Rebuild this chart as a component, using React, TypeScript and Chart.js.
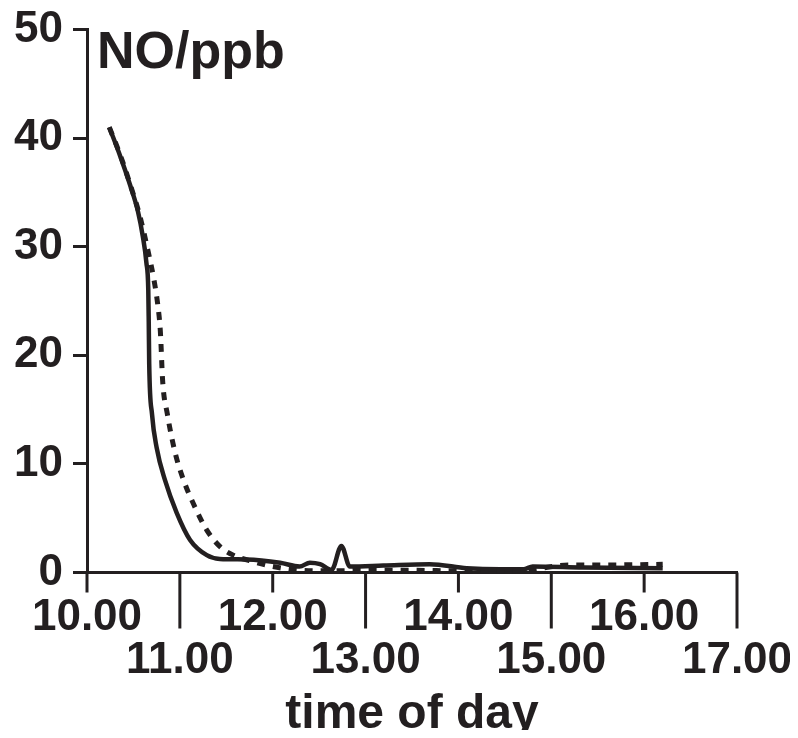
import React, { useEffect, useRef } from "react";
import { Chart, registerables } from "chart.js";

Chart.register(...registerables);

const INK = "#231f20";
const FONT = "'Liberation Sans', Arial, Helvetica, sans-serif";

// x axis: time of day (hours)
const hourTicks = [10, 11, 12, 13, 14, 15, 16, 17];
const yTickValues = [0, 10, 20, 30, 40, 50];

// solid series
const solidTime = [10.24, 10.355, 10.463, 10.55, 10.6, 10.64, 10.66, 10.665, 10.67, 10.7, 10.75, 10.84, 10.966, 11.11, 11.29, 11.43, 11.72, 12.08, 12.29, 12.4, 12.51, 12.635, 12.74, 12.83, 13.19, 13.69, 14.09, 14.45, 14.7, 14.8, 15.34, 16.2];
const solidNO = [41.0, 38.4, 35.7, 33.2, 31.0, 28.5, 26.0, 23.0, 19.2, 14.6, 11.5, 8.5, 5.5, 3.0, 1.6, 1.25, 1.2, 0.9, 0.55, 0.9, 0.77, 0.25, 2.45, 0.55, 0.64, 0.77, 0.4, 0.3, 0.3, 0.55, 0.46, 0.4];

// dotted series
const dottedTime = [10.24, 10.36, 10.47, 10.57, 10.66, 10.72, 10.76, 10.79, 10.815, 10.865, 10.95, 11.04, 11.145, 11.29, 11.43, 11.575, 11.79, 12.0, 12.3, 12.6, 13.0, 13.5, 14.0, 14.5, 14.8, 15.2, 15.7, 16.2];
const dottedNO = [41.0, 38.4, 35.6, 32.8, 29.5, 27.0, 24.8, 22.2, 17.6, 14.6, 11.0, 8.5, 6.35, 3.9, 2.4, 1.6, 1.0, 0.55, 0.2, 0.15, 0.2, 0.2, 0.15, 0.15, 0.3, 0.7, 0.7, 0.75];

const yTitle = "NO/ppb";
const xTitle = "time of day";

const zeroPad = (s: any) => {
  s.paddingLeft = 0;
  s.paddingRight = 0;
  s.paddingTop = 0;
  s.paddingBottom = 0;
};

const extrasPlugin = {
  id: "extras",
  afterDraw(chart: any) {
    const ctx = chart.ctx;
    const xs = chart.scales.x;
    ctx.save();
    ctx.strokeStyle = INK;
    ctx.lineWidth = 3;
    xs.ticks.forEach((t: any) => {
      const px = xs.getPixelForValue(t.value);
      const len = t.value % 2 === 0 ? 20 : 56;
      ctx.beginPath();
      ctx.moveTo(px, xs.top);
      ctx.lineTo(px, xs.top + len);
      ctx.stroke();
    });
    ctx.fillStyle = INK;
    ctx.font = `bold 52px ${FONT}`;
    ctx.textAlign = "left";
    ctx.textBaseline = "alphabetic";
    ctx.fillText(yTitle, chart.chartArea.left + 10, chart.chartArea.top + 38.5);
    ctx.restore();
  },
};

export default function App() {
  const ref = useRef<HTMLCanvasElement | null>(null);
  useEffect(() => {
    if (!ref.current) return;
    const chart = new Chart(ref.current, {
      type: "line",
      data: {
        datasets: [
          {
            data: dottedTime.map((t, i) => ({ x: t, y: dottedNO[i] })),
            borderColor: INK,
            borderWidth: 5,
            borderDash: [8, 8],
            pointRadius: 0,
            cubicInterpolationMode: "monotone",
            fill: false,
            clip: false,
          },
          {
            data: solidTime.map((t, i) => ({ x: t, y: solidNO[i] })),
            borderColor: INK,
            borderWidth: 4.5,
            pointRadius: 0,
            cubicInterpolationMode: "monotone",
            fill: false,
            clip: false,
          },
        ],
      },
      options: {
        responsive: false,
        animation: false,
        layout: { autoPadding: false, padding: { top: 21.5, right: 61, left: 0, bottom: 0 } },
        plugins: { legend: { display: false }, tooltip: { enabled: false } },
        scales: {
          x: {
            type: "linear",
            min: 10,
            max: 17,
            afterBuildTicks: (s: any) => {
              s.ticks = hourTicks.map((v) => ({ value: v }));
            },
            afterFit: (s: any) => {
              s.height = 165.5;
              zeroPad(s);
            },
            ticks: {
              autoSkip: false,
              maxRotation: 0,
              minRotation: 0,
              padding: 23.5,
              color: INK,
              font: { family: FONT, size: 44, weight: "bold", lineHeight: "43px" },
              callback: (v: any) => {
                const s = Number(v).toFixed(2);
                return Number(v) % 2 === 0 ? [s] : ["", s];
              },
            },
            grid: { display: true, drawOnChartArea: false, drawTicks: false },
            border: { display: true, color: INK, width: 3 },
            title: {
              display: true,
              text: xTitle,
              color: INK,
              font: { family: FONT, size: 48, weight: "bold", lineHeight: 0.75 },
              padding: { top: 0, bottom: 5 },
            },
          },
          y: {
            type: "linear",
            min: 0,
            max: 50,
            afterBuildTicks: (s: any) => {
              s.ticks = yTickValues.map((v) => ({ value: v }));
            },
            afterFit: (s: any) => {
              s.width = 79;
              zeroPad(s);
            },
            ticks: {
              padding: 10,
              color: INK,
              font: { family: FONT, size: 44, weight: "bold" },
            },
            grid: {
              display: true,
              drawOnChartArea: false,
              drawTicks: true,
              tickLength: 14,
              tickWidth: 3,
              tickColor: INK,
            },
            border: { display: true, color: INK, width: 3 },
          },
        },
      },
      plugins: [extrasPlugin],
    } as any);
    return () => chart.destroy();
  }, []);
  return (
    <canvas
      ref={ref}
      width={790}
      height={730}
      style={{ display: "block", width: 790, height: 730, marginBottom: -8, marginRight: -8 }}
    />
  );
}
